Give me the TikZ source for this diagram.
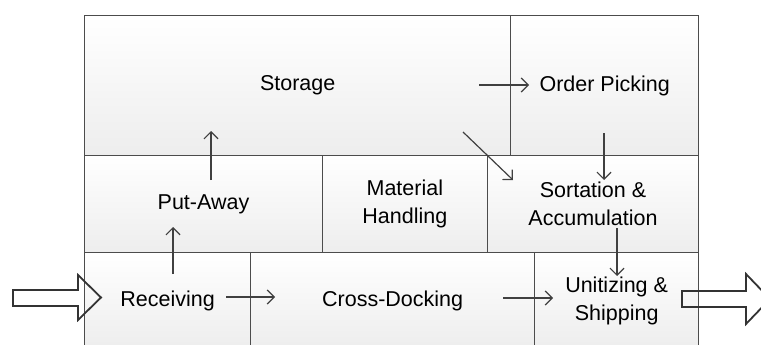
\documentclass[tikz,border=0pt]{standalone}
\usepackage{fontspec}
\setmainfont{Liberation Sans}
\usetikzlibrary{arrows.meta,positioning}

\tikzset{
  cell/.style={draw=black!70, line width=1.3pt, top color=white, bottom color=black!7,
    inner sep=0pt, align=center, anchor=north west, text=black,
    font=\fontsize{21.5}{28}\selectfont},
  flow/.style={draw=black!75, line width=1.2pt,
    -{Straight Barb[length=7pt,width=14pt,line width=1.2pt]}},
  bigarrow/.style={draw=black!80, line width=1.8pt, line join=miter}
}

\begin{document}
\begin{tikzpicture}[x=1pt,y=-1pt]
\useasboundingbox (0,0) rectangle (761,345);

% top row
\node[cell, minimum width=426pt, minimum height=140pt] (storage) at (84,15) {Storage};
\node[cell, minimum width=188pt, minimum height=140pt] (picking) at (510,15) {Order Picking};
% middle row
\node[cell, minimum width=237.7pt, minimum height=97pt] (putaway) at (84,155) {Put-Away};
\node[cell, minimum width=165pt, minimum height=97pt] (handling) at (321.7,155) {Material\\Handling};
\node[cell, minimum width=211.3pt, minimum height=97pt] (sortation) at (486.7,155) {Sortation \&\\Accumulation};
% bottom row (runs past the lower edge)
\node[cell, minimum width=166pt, minimum height=96pt] (receiving) at (84,252) {Receiving};
\node[cell, minimum width=284pt, minimum height=96pt] (crossdock) at (250,252) {Cross-Docking};
\node[cell, minimum width=164pt, minimum height=96pt] (shipping) at (534,252) {Unitizing \&\\Shipping};

% end points of the flow arrows
\coordinate (rcv-up-a) at (173,274);
\coordinate (rcv-up-b) at (173,227);
\coordinate (put-up-a) at (211,180);
\coordinate (put-up-b) at (211,131);
\coordinate (sto-op-a) at (479,85);
\coordinate (sto-op-b) at (529,85);
\coordinate (sto-so-a) at (463,132);
\coordinate (sto-so-b) at (513,180);
\coordinate (op-so-a) at (604,133);
\coordinate (op-so-b) at (604,180);
\coordinate (so-us-a) at (617,228);
\coordinate (so-us-b) at (617,276);
\coordinate (rcv-cd-a) at (226,297);
\coordinate (rcv-cd-b) at (275,297);
\coordinate (cd-us-a) at (503,298);
\coordinate (cd-us-b) at (553,298);

\draw[flow] (rcv-up-a) -- (rcv-up-b);
\draw[flow] (put-up-a) -- (put-up-b);
\draw[flow] (sto-op-a) -- (sto-op-b);
\draw[flow] (sto-so-a) -- (sto-so-b);
\draw[flow] (op-so-a) -- (op-so-b);
\draw[flow] (so-us-a) -- (so-us-b);
\draw[flow] (rcv-cd-a) -- (rcv-cd-b);
\draw[flow] (cd-us-a) -- (cd-us-b);

% hollow inbound and outbound arrows
\draw[bigarrow] (13,290) -- (78,290) -- (78,275) -- (101,297.5) -- (78,320) -- (78,306) -- (13,306) -- cycle;
\draw[bigarrow] (682,291) -- (746,291) -- (746,274) -- (770,299) -- (746,324) -- (746,307) -- (682,307) -- cycle;
\end{tikzpicture}
\end{document}
